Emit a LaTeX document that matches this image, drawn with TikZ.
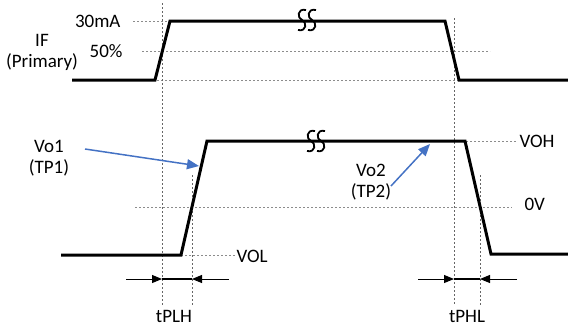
\documentclass[tikz,border=0pt]{standalone}
\usepackage{fontspec}
\setmainfont{Carlito}
\usepackage{xcolor}
\usetikzlibrary{arrows.meta}
\definecolor{linecolor}{HTML}{4472C4}
\definecolor{guidecolor}{HTML}{8C8C8C}

\begin{document}
\begin{tikzpicture}[x=1pt,y=-1pt,font=\fontsize{19}{21}\selectfont]
\useasboundingbox (0,0) rectangle (568,327);
%% dotted guide lines
   \draw [guidecolor,line width=0.8pt,dash pattern=on 2pt off 2pt] (133,21) -- (170,21);
   \draw [guidecolor,line width=0.8pt,dash pattern=on 2pt off 2pt] (142,51) -- (490,51);
   \draw [guidecolor,line width=0.8pt,dash pattern=on 2pt off 2pt] (157,80) -- (459,80);
   \draw [guidecolor,line width=0.8pt,dash pattern=on 2pt off 2pt] (466,141) -- (516,141);
   \draw [guidecolor,line width=0.8pt,dash pattern=on 2pt off 2pt] (135,207) -- (512,207);
   \draw [guidecolor,line width=0.8pt,dash pattern=on 2pt off 2pt] (181,255) -- (235,255);
\foreach \x/\ytop in {162/3, 192/175, 454/18, 480/175}
   \draw [black!60,line width=0.8pt,dash pattern=on 2pt off 2pt] (\x,\ytop) -- (\x,305);
%% IF (primary)
   \draw [black,line width=3pt] (72,80) -- (155,80) -- (170,21) -- (445,21) -- (459,80) -- (568,80);
%% Vo (secondary)
   \draw [black,line width=3pt] (61,255) -- (181,255) -- (207,141) -- (465,141) -- (491,254) -- (568,254);
%% break marks
\foreach \sx/\sy in {302/20, 312/20, 311/141, 321/141}
   \draw [black,line width=1.8pt] ({\sx+4},{\sy-10}) .. controls ({\sx-5},{\sy-12}) and ({\sx-5},{\sy-2}) .. (\sx,\sy)
        .. controls ({\sx+5},{\sy+2}) and ({\sx+5},{\sy+12}) .. ({\sx-4},{\sy+10});
%% labels
   \node (imax) [anchor=east] at (124,21) {30mA};
   \node (ihalf) [anchor=east] at (126,51) {50\%};
   \node (iflab) [align=center] at (42,52) {IF\\(Primary)};
   \node (vo1) [align=center] at (49,158) {Vo1\\(TP1)};
   \node (vo2) [align=center] at (371,182) {Vo2\\(TP2)};
   \node (voh) [anchor=west] at (516,141) {VOH};
   \node (zero) [anchor=west] at (521,204) {0V};
   \node (vol) [anchor=west] at (233,256) {VOL};
   \node (tplh) [anchor=base,inner sep=1pt] at (174,322) {tPLH};
   \node (tphl) [anchor=base,inner sep=1pt] at (467,322) {tPHL};
%% pointers
   \coordinate (vo1tail) at (85,149);
   \coordinate (vo1tip) at (199,166);
   \coordinate (vo2tail) at (391,186);
   \coordinate (vo2tip) at (430,144);
   \draw [linecolor,line width=1.5pt,-{Triangle[length=12pt,width=10pt]}] (vo1tail) -- (vo1tip);
   \draw [linecolor,line width=1.5pt,-{Triangle[length=12pt,width=10pt]}] (vo2tail) -- (vo2tip);
%% delay times
\foreach \a/\b in {162/192, 454/480} {
   \draw [black,line width=1pt,-{Triangle[length=10pt,width=8pt]}] ({\a-36},279) -- (\a,279);
   \draw [black,line width=1pt,-{Triangle[length=10pt,width=8pt]}] ({\b+37},279) -- (\b,279);
   \draw [black,line width=2.5pt] (\a,279) -- (\b,279);
}
\end{tikzpicture}
\end{document}
